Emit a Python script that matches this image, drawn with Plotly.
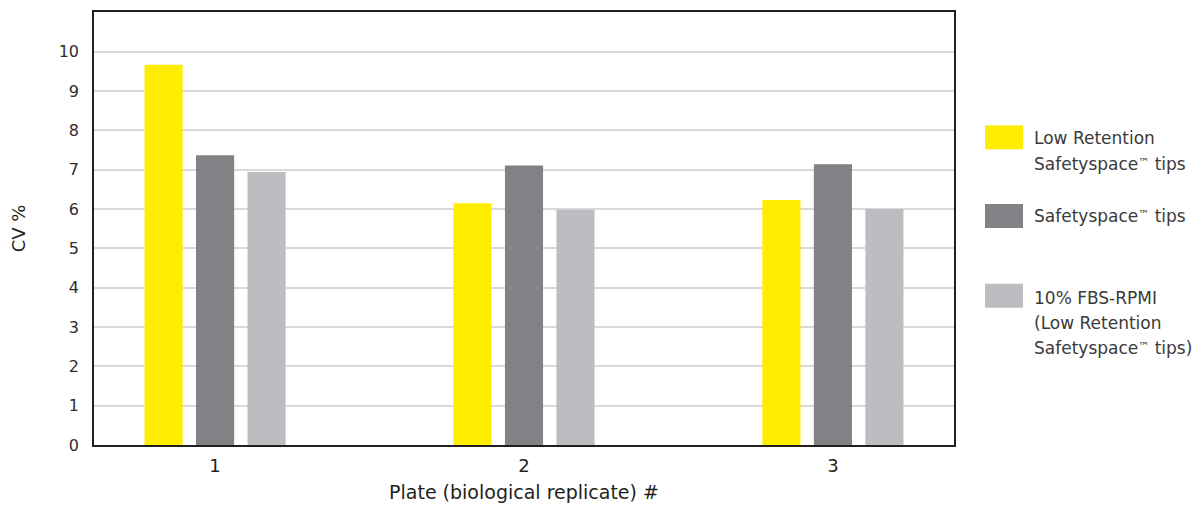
import plotly.graph_objects as go

plates = [1, 2, 3]
series_names = ["Low Retention Safetyspace™ tips", "Safetyspace™ tips",
                "10% FBS-RPMI (Low Retention Safetyspace™ tips)"]
low_retention = [9.67, 6.15, 6.23]
safetyspace = [7.37, 7.11, 7.14]
fbs_rpmi = [6.94, 5.98, 6.0]
colors = ["#FFED00", "#818285", "#BCBDC0"]
TM = "<span style='font-size:11px;baseline-shift:40%'>™</span>"
legend_lines = [["Low Retention", "Safetyspace" + TM + " tips"],
                ["Safetyspace" + TM + " tips"],
                ["10% FBS-RPMI", "(Low Retention", "Safetyspace" + TM + " tips)"]]
y_ticks = list(range(0, 11))

FONT = "DejaVu Sans, Inter, sans-serif"
TXT = "#2e2e2e"

# page body has an 8px margin; figure is sized so the plot lands where the reference has it
OFF = 8
W, H = 1204 - OFF, 507 - OFF
l, t = 94 - OFF, 10 - OFF
pw, ph = 860, 435
r, b = W - l - pw, H - t - ph

fig = go.Figure()
for name, vals, col in zip(series_names, [low_retention, safetyspace, fbs_rpmi], colors):
    fig.add_trace(go.Bar(x=plates, y=vals, name=name, marker=dict(color=col, line=dict(width=0)),
                         showlegend=False))

fig.update_layout(
    width=W, height=H,
    margin=dict(l=l, r=r, t=t, b=b, pad=0),
    paper_bgcolor="white", plot_bgcolor="white",
    barmode="group", bargap=0.5, bargroupgap=0.26,
    font=dict(family=FONT, size=17, color=TXT),
    xaxis=dict(range=[0.608, 3.392], tickvals=plates, ticktext=[str(p) for p in plates],
               showline=True, linecolor="#231f20", linewidth=1.5, mirror=True,
               showgrid=False, ticks="", zeroline=False, ticklabelstandoff=4,
               tickfont=dict(size=18, color="#231f20"),
               title=dict(text="Plate (biological replicate) #", font=dict(size=19, color="#231f20"), standoff=10)),
    yaxis=dict(range=[0, 11.01], tickvals=y_ticks, showline=True, linecolor="#231f20", linewidth=1.5,
               mirror=True, showgrid=True, gridcolor="#d9d9d9", gridwidth=1.5, zeroline=False,
               ticks="", ticklabelstandoff=10, tickfont=dict(size=16, color=TXT),
               title=dict(text="CV %", font=dict(size=18, color="#231f20"), standoff=32)),
)

def px(x):
    return (x - OFF - l) / pw

def py(y):
    return 1 - (y - OFF - t) / ph

sw_tops = [124, 203, 283]
text_first = [137, 215, 297]
for top, first, lines, col in zip(sw_tops, text_first, legend_lines, colors):
    fig.add_shape(type="rect", xref="paper", yref="paper",
                  x0=px(985), x1=px(1023), y0=py(top + 24), y1=py(top),
                  fillcolor=col, line=dict(width=0))
    for i, ln in enumerate(lines):
        fig.add_annotation(xref="paper", yref="paper", x=px(1032), y=py(first + 25.5 * i),
                           text=ln, showarrow=False, xanchor="left", yanchor="middle",
                           font=dict(size=17, color="#3a3a3a", family=FONT))

fig.write_html("out.html")
